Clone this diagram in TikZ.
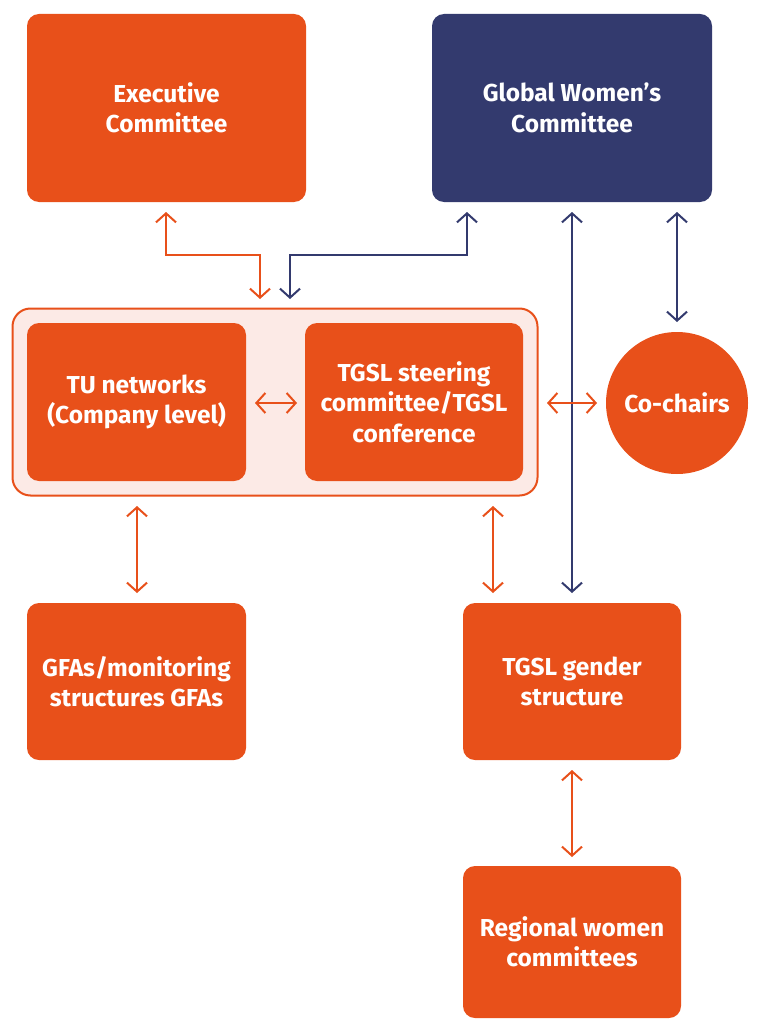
\documentclass[tikz,border=0pt]{standalone}
\usepackage{fontspec}
\setmainfont{Fira Sans}
\usetikzlibrary{arrows.meta}
\definecolor{orng}{HTML}{E8501A}
\definecolor{navy}{HTML}{333A6E}
\definecolor{pinkbg}{HTML}{FCEAE6}
\begin{document}
\begin{tikzpicture}[x=1pt,y=-1pt,
  box/.style={fill=orng,rounded corners=12pt,text=white,font=\fontsize{24.5}{30.5}\selectfont\bfseries,align=center},
  nbox/.style={box,fill=navy},
  conn/.style={line width=2pt,{Straight Barb[length=9pt,width=20pt]}-{Straight Barb[length=9pt,width=20pt]}},
  oc/.style={conn,draw=orng},
  nc/.style={conn,draw=navy}]
\useasboundingbox (0,0) rectangle (756,1019);
% outer container
\node[draw=orng,line width=2pt,fill=pinkbg,rounded corners=18pt,minimum width=525pt,minimum height=187pt,inner sep=0pt] (cont) at (275,402) {};
% boxes
\node[box,minimum width=279pt,minimum height=188pt] (exec) at (166.5,108) {Executive\\Committee};
\node[nbox,minimum width=280pt,minimum height=188pt] (gwc) at (572,108) {Global Women’s\\Committee};
\node[box,minimum width=219pt,minimum height=158pt] (tu) at (136.5,402) {TU networks\\(Company level)};
\node[box,minimum width=218pt,minimum height=158pt] (tgsl) at (414,402) {TGSL steering\\committee/TGSL\\conference};
\node[circle,fill=orng,minimum size=142pt,inner sep=0pt,text=white,font=\fontsize{24.5}{30.5}\selectfont\bfseries] (co) at (677,403) {Co-chairs};
\node[box,minimum width=219pt,minimum height=157pt] (gfa) at (136.5,681.5) {GFAs/monitoring\\structures GFAs};
\node[box,minimum width=218pt,minimum height=157pt] (tgs) at (572,681.5) {TGSL gender\\structure};
\node[box,minimum width=218pt,minimum height=152pt] (reg) at (572,942) {Regional women\\committees};
% connectors
\coordinate (e1) at (166,212);
\coordinate (e2) at (260,299);
\draw[oc] (e1) -- (166,255) -- (260,255) -- (e2);
\coordinate (g1) at (467,212);
\coordinate (g2) at (290,299);
\draw[nc] (g2) -- (290,255) -- (467,255) -- (g1);
\draw[nc] (572,212) -- (572,593);
\draw[nc] (677,212) -- (677,322);
\draw[oc] (255,403) -- (297,403);
\draw[oc] (547,403) -- (597,403);
\draw[oc] (137,506) -- (137,593);
\draw[oc] (493,506) -- (493,593);
\draw[oc] (572,770) -- (572,857);
\end{tikzpicture}
\end{document}
